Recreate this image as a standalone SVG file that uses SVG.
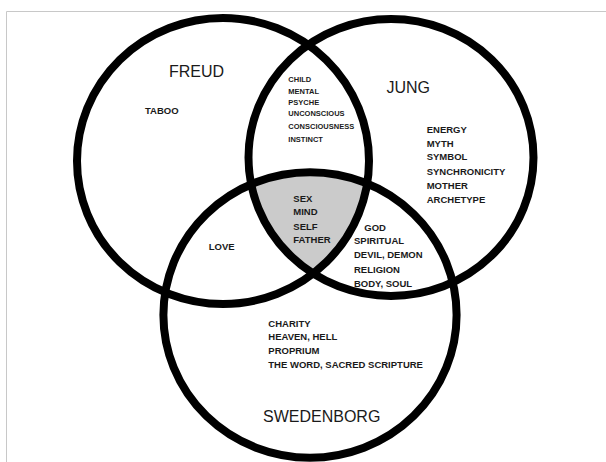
<svg xmlns="http://www.w3.org/2000/svg" width="606" height="462" viewBox="0 0 606 462">
<style>
.ring{fill:none;stroke:#000;stroke-width:8}
.title{font-family:"Liberation Sans",Arial,sans-serif;font-size:16px;fill:#1a1a1a}
.t{font-family:"Liberation Sans",Arial,sans-serif;font-size:9.5px;font-weight:bold;fill:#1a1a1a}
.s{font-family:"Liberation Sans",Arial,sans-serif;font-size:7.5px;font-weight:bold;fill:#1a1a1a}
</style>
<defs>
<clipPath id="cj"><ellipse cx="391" cy="157.5" rx="142.5" ry="138.5"/></clipPath>
<clipPath id="cs"><ellipse cx="310" cy="315" rx="146.6" ry="142.7"/></clipPath>
</defs>
<rect x="0" y="0" width="606" height="462" fill="#fff"/>
<path d="M6.5 462V11.5H606" fill="none" stroke="#c8c8c8" stroke-width="1"/>
<g id="center-shade" clip-path="url(#cs)"><g clip-path="url(#cj)"><ellipse cx="223" cy="161" rx="146" ry="143" fill="#cbcbcb"/></g></g>
<g id="freud"><ellipse class="ring" cx="223" cy="161" rx="146" ry="143"/><text class="title" x="169" y="76.5">FREUD</text><text class="t" x="145" y="113.5">TABOO</text></g>
<g id="jung"><ellipse class="ring" cx="391" cy="157.5" rx="142.5" ry="138.5"/><text class="title" x="386.5" y="92.5">JUNG</text>
<text class="t" x="426.7"><tspan x="426.7" y="133.4">ENERGY</tspan><tspan x="426.7" y="146.8">MYTH</tspan><tspan x="426.7" y="160.2">SYMBOL</tspan><tspan x="426.7" y="174.5">SYNCHRONICITY</tspan><tspan x="426.7" y="189">MOTHER</tspan><tspan x="426.7" y="202.7">ARCHETYPE</tspan></text></g>
<g id="swedenborg"><ellipse class="ring" cx="310" cy="315" rx="146.6" ry="142.7"/><text class="title" x="263" y="421.8">SWEDENBORG</text>
<text class="t"><tspan x="268.3" y="326.7">CHARITY</tspan><tspan x="268.3" y="340.1">HEAVEN, HELL</tspan><tspan x="268.3" y="354.1">PROPRIUM</tspan><tspan x="268.3" y="367.7">THE WORD, SACRED SCRIPTURE</tspan></text></g>
<g id="freud-jung"><text class="s"><tspan x="288.3" y="81.7">CHILD</tspan><tspan x="288.3" y="93.7">MENTAL</tspan><tspan x="288.3" y="105.4">PSYCHE</tspan><tspan x="288.3" y="116">UNCONSCIOUS</tspan><tspan x="288.3" y="129.4">CONSCIOUSNESS</tspan><tspan x="288.3" y="141.7">INSTINCT</tspan></text></g>
<g id="all-three"><text class="t"><tspan x="293.3" y="201.7">SEX</tspan><tspan x="293.3" y="215.1">MIND</tspan><tspan x="293.3" y="230.1">SELF</tspan><tspan x="293.3" y="243.4">FATHER</tspan></text></g>
<g id="jung-swedenborg"><text class="t"><tspan x="364.3" y="230.7">GOD</tspan><tspan x="354" y="244.1">SPIRITUAL</tspan><tspan x="354" y="258.4">DEVIL, DEMON</tspan><tspan x="354" y="272.7">RELIGION</tspan><tspan x="354" y="286.7">BODY, SOUL</tspan></text></g>
<g id="freud-swedenborg"><text class="t" x="208.7" y="250">LOVE</text></g>
<g id="connectors"/>
</svg>
